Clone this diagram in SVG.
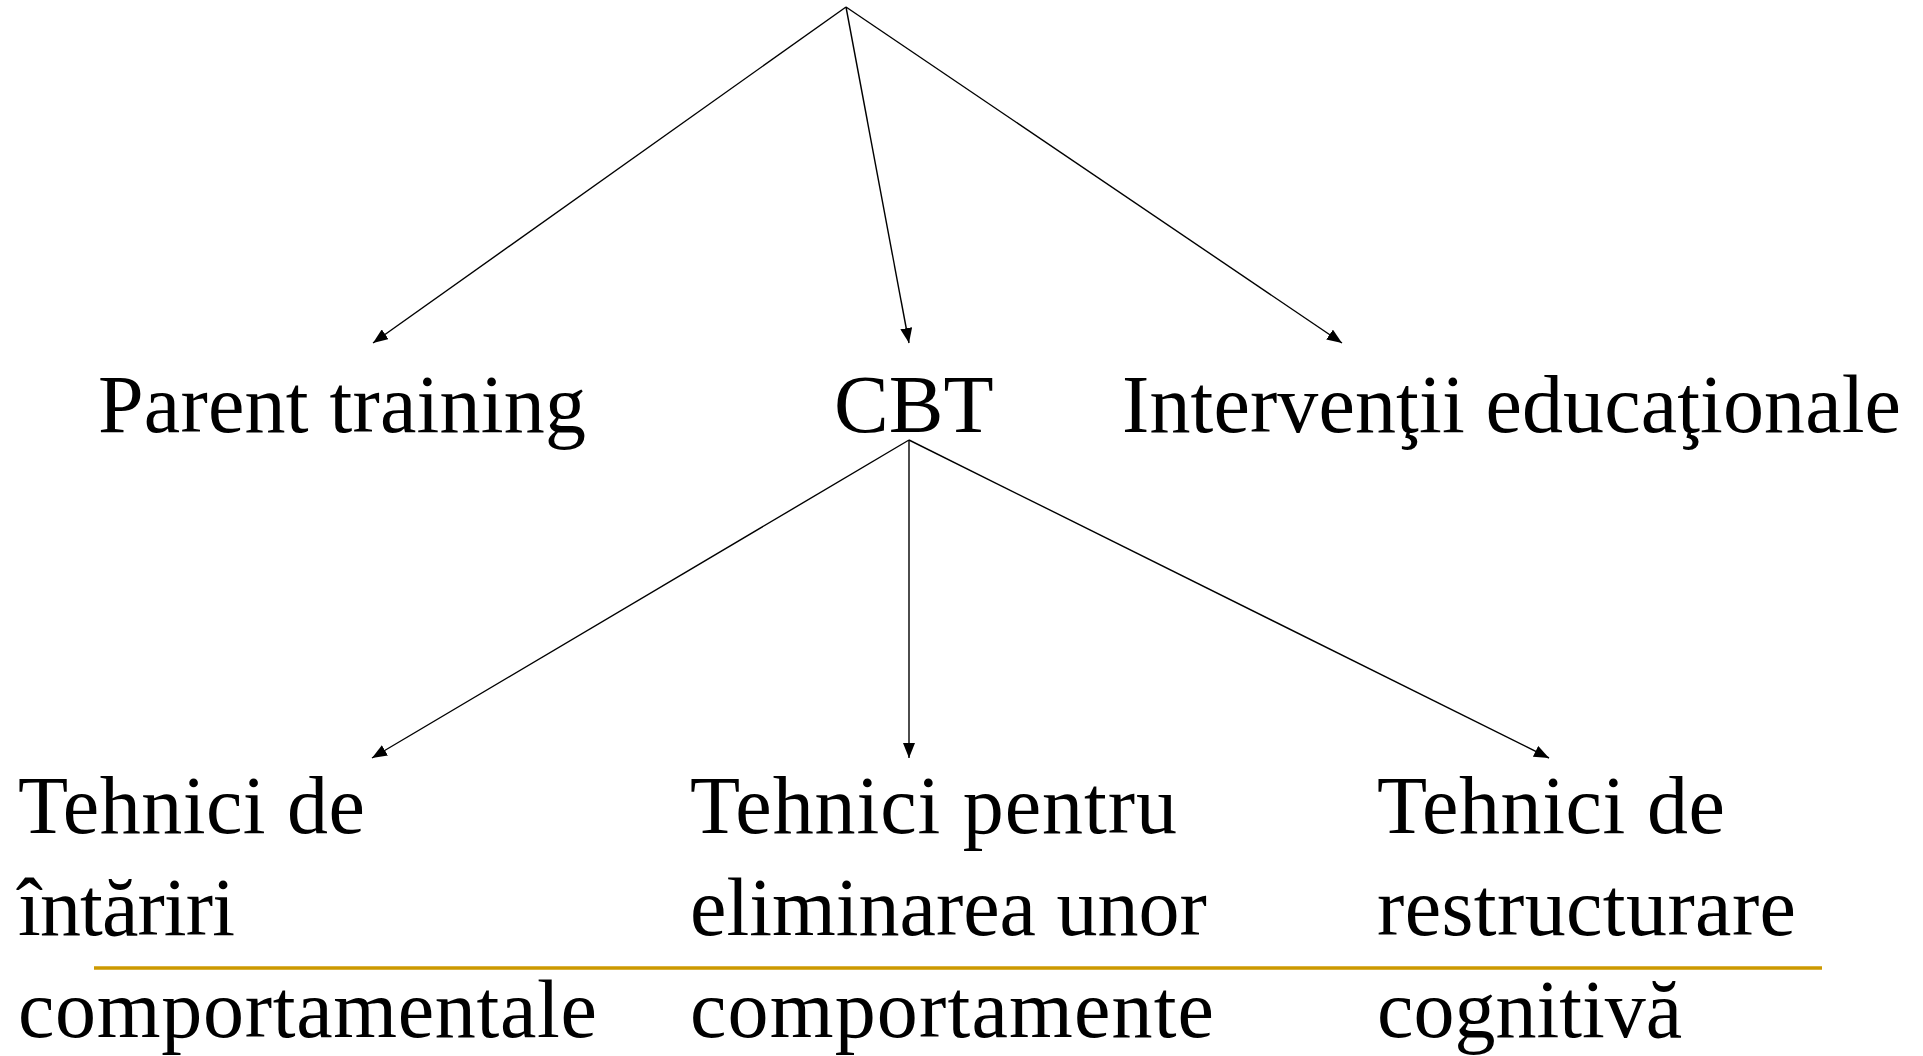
<svg xmlns="http://www.w3.org/2000/svg" width="1923" height="1056" viewBox="0 0 1923 1056">
<style>
.lbl{font-family:"Liberation Serif","Times New Roman",serif;font-size:82px;fill:#000}
.edge{stroke:#000;stroke-width:1.4;fill:none;marker-end:url(#ah)}
</style>
<defs>
<marker id="ah" markerUnits="userSpaceOnUse" markerWidth="16" markerHeight="12" refX="15" refY="6" orient="auto">
<path d="M0,0 L15,6 L0,12 Z" fill="#000"/>
</marker>
</defs>
<rect width="1923" height="1056" fill="#fff"/>
<g id="connectors">
<line class="edge" x1="846" y1="7" x2="373" y2="343"/>
<line class="edge" x1="846" y1="7" x2="909" y2="343"/>
<line class="edge" x1="846" y1="7" x2="1342" y2="343"/>
<line class="edge" x1="909" y1="440" x2="372" y2="758"/>
<line class="edge" x1="909" y1="440" x2="909" y2="758"/>
<line class="edge" x1="909" y1="440" x2="1549" y2="758"/>
</g>
<g id="node-parent"><text class="lbl" x="98" y="432" textLength="488">Parent training</text></g>
<g id="node-cbt"><text class="lbl" x="834" y="432">CBT</text></g>
<g id="node-interventii"><text class="lbl" x="1122" y="432" textLength="779">Intervenţii educaţionale</text></g>
<g id="node-intariri">
<text class="lbl" x="18" y="833" textLength="347">Tehnici de</text>
<text class="lbl" x="18" y="935" textLength="217">întăriri</text>
<text class="lbl" x="18" y="1037" textLength="579">comportamentale</text>
</g>
<g id="node-eliminare">
<text class="lbl" x="690" y="833" textLength="487">Tehnici pentru</text>
<text class="lbl" x="690" y="935">eliminarea unor</text>
<text class="lbl" x="690" y="1037" textLength="524">comportamente</text>
</g>
<g id="node-restructurare">
<text class="lbl" x="1377" y="833" textLength="348">Tehnici de</text>
<text class="lbl" x="1377" y="935" textLength="419">restructurare</text>
<text class="lbl" x="1377" y="1037">cognitivă</text>
</g>
<line id="rule" x1="94" y1="968" x2="1822" y2="968" stroke="#CC9900" stroke-width="3.6"/>
</svg>
